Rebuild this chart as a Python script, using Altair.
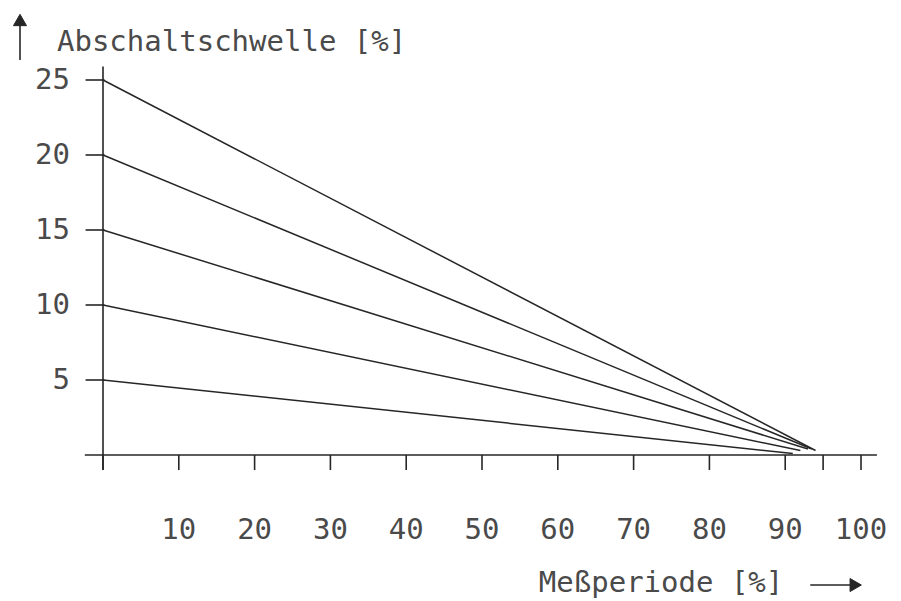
import altair as alt
import pandas as pd

# --- data ---
start_values = [5, 10, 15, 20, 25]          # Abschaltschwelle at Meßperiode 0
end_x = [91.0, 92.0, 93.0, 93.5, 94.0]      # where each line meets the axis
end_y = [0.1, 0.3, 0.4, 0.4, 0.3]
x_ticks = [0, 10, 20, 30, 40, 50, 60, 70, 80, 90, 95, 100]
x_labels = [10, 20, 30, 40, 50, 60, 70, 80, 90, 100]
y_ticks = [5, 10, 15, 20, 25]

FONT = "DejaVu Sans Mono"
TXT = "#4a4a4a"
INK = "#262626"

xs = alt.Scale(domain=[-12.533, 104.22], nice=False, zero=False)
ys = alt.Scale(domain=[-9.667, 29.8], nice=False, zero=False)


def seg_chart(df, width):
    return alt.Chart(df).mark_rule(color=INK, strokeWidth=width).encode(
        x=alt.X("x:Q", scale=xs, axis=None), y=alt.Y("y:Q", scale=ys, axis=None),
        x2="x2:Q", y2="y2:Q")


def text_chart(df, align):
    return alt.Chart(df).mark_text(
        font=FONT, fontSize=29, color=TXT, align=align, baseline="middle").encode(
        x=alt.X("x:Q", scale=xs, axis=None), y=alt.Y("y:Q", scale=ys, axis=None),
        text="t:N")


def head_chart(df, shape):
    return alt.Chart(df).mark_point(filled=True, fill=INK, stroke=INK, strokeWidth=1,
                                    size=170, opacity=1, shape=shape).encode(
        x=alt.X("x:Q", scale=xs, axis=None), y=alt.Y("y:Q", scale=ys, axis=None))


lines = pd.DataFrame({"x": [0] * 5, "y": start_values, "x2": end_x, "y2": end_y})
axes_df = pd.DataFrame({"x": [-2.4, 0], "x2": [102.1, 0], "y": [0, -1], "y2": [0, 25.9]})
xt = pd.DataFrame({"x": x_ticks, "x2": x_ticks,
                   "y": [0] * len(x_ticks), "y2": [-1] * len(x_ticks)})
yt = pd.DataFrame({"x": [-2.3] * len(y_ticks), "x2": [0.2] * len(y_ticks),
                   "y": y_ticks, "y2": y_ticks})
ylab = pd.DataFrame({"x": [-4.35] * len(y_ticks), "y": y_ticks,
                     "t": [str(v) for v in y_ticks]})
xlab = pd.DataFrame({"x": x_labels, "y": [-5.0] * len(x_labels),
                     "t": [str(v) for v in x_labels]})
titles = pd.DataFrame({"x": [-6.07, 57.5], "y": [27.53, -8.53],
                       "t": ["Abschaltschwelle [%]", "Meßperiode [%]"]})
arrows = pd.DataFrame({"x": [-10.95, 93.3], "x2": [-10.95, 99.5],
                       "y": [26.33, -8.67], "y2": [28.8, -8.67]})
head_up = pd.DataFrame({"x": [-10.95], "y": [29.0]})
head_right = pd.DataFrame({"x": [99.3], "y": [-8.67]})

chart = alt.layer(
    seg_chart(axes_df, 1.6), seg_chart(xt, 1.6), seg_chart(yt, 1.6),
    seg_chart(lines, 1.5),
    text_chart(ylab, "right"), text_chart(xlab, "center"), text_chart(titles, "left"),
    seg_chart(arrows, 1.6), head_chart(head_up, "triangle-up"),
    head_chart(head_right, "triangle-right")
).properties(
    width=885, height=592, autosize=alt.AutoSizeParams(type="none"), padding=0,
    background="white"
).configure_view(stroke=None, strokeWidth=0)

chart.save("out.html", embed_options={"renderer": "svg", "actions": False})
